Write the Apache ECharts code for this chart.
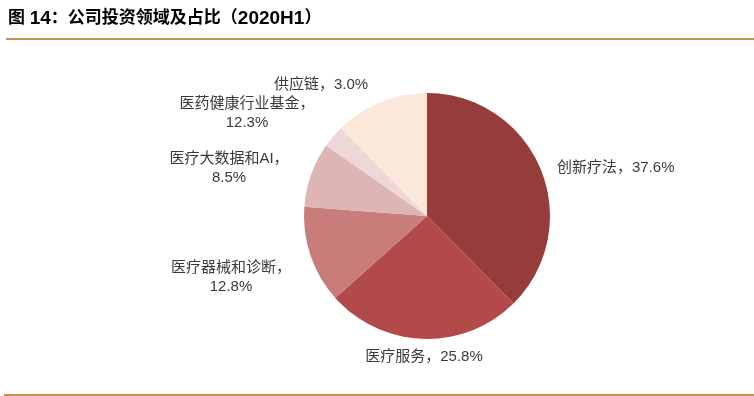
<!DOCTYPE html>
<html>
<head>
<meta charset="utf-8">
<script src="https://cdn.jsdelivr.net/npm/echarts@6/dist/echarts.min.js"></script>
<style>
html,body{margin:0;padding:0;background:#fff;}
#chart{width:754px;height:396px;}
</style>
</head>
<body>
<div id="chart"></div>
<script>
// ---- data ----
var titleParts = [['c', '图 '], ['n', '14'], ['c', '：公司投资领域及占比（'], ['n', '2020H1'], ['c', '）']];
var categories = ['创新疗法', '医疗服务', '医疗器械和诊断', '医疗大数据和AI', '供应链', '医药健康行业基金'];
var shares = [37.6, 25.8, 12.8, 8.5, 3.0, 12.3];

// ---- styles ----
var colors = ['#963C3C', '#B34A4A', '#C97D7B', '#DDB5B4', '#EED8D7', '#FCE8DA'];
var wrapLabel = [false, false, true, true, false, true];
var labelPos = [
  {x: 557, y: 168, align: 'left'},
  {x: 424, y: 357, align: 'center'},
  {x: 231, y: 277, align: 'center'},
  {x: 229, y: 168, align: 'center'},
  {x: 321, y: 85, align: 'center'},
  {x: 247, y: 113, align: 'center'}
];
var fontFam = '"Liberation Sans", Arial, "Noto Sans CJK SC", sans-serif';

var chart = echarts.init(document.getElementById('chart'), null, {renderer: 'canvas'});
var option = {
  backgroundColor: '#ffffff',
  animation: false,
  graphic: [
    {type: 'text', left: 8, top: 9, style: {
      text: titleParts.map(function (p) { return '{' + p[0] + '|' + p[1] + '}'; }).join(''),
      rich: {
        c: {fontSize: 17, fontWeight: 'bold', fontFamily: fontFam, fill: '#000', color: '#000'},
        n: {fontSize: 19, fontWeight: 'bold', fontFamily: fontFam, fill: '#000', color: '#000'}
      },
      fill: '#000'
    }},
    {type: 'rect', shape: {x: 6, y: 38, width: 748, height: 2}, style: {fill: '#C8944A'}},
    {type: 'rect', shape: {x: 4, y: 394, width: 750, height: 2}, style: {fill: '#C8944A'}}
  ],
  series: [{
    type: 'pie',
    center: [427, 216],
    radius: [0, 123],
    startAngle: 90,
    clockwise: true,
    avoidLabelOverlap: false,
    itemStyle: {borderWidth: 0},
    label: {
      show: true,
      position: 'outside',
      color: '#3a3a3a',
      fontSize: 15,
      fontFamily: fontFam,
      lineHeight: 19,
      formatter: function (p) {
        var v = shares[p.dataIndex].toFixed(1) + '%';
        return p.name + '，' + (wrapLabel[p.dataIndex] ? '\n' : '') + v;
      }
    },
    labelLine: {show: false},
    labelLayout: function (params) {
      var lp = labelPos[params.dataIndex];
      return {x: lp.x, y: lp.y, align: lp.align, verticalAlign: 'middle'};
    },
    emphasis: {disabled: true},
    data: categories.map(function (c, i) {
      return {name: c, value: shares[i], itemStyle: {color: colors[i]}};
    })
  }]
};
chart.setOption(option);
</script>
</body>
</html>
